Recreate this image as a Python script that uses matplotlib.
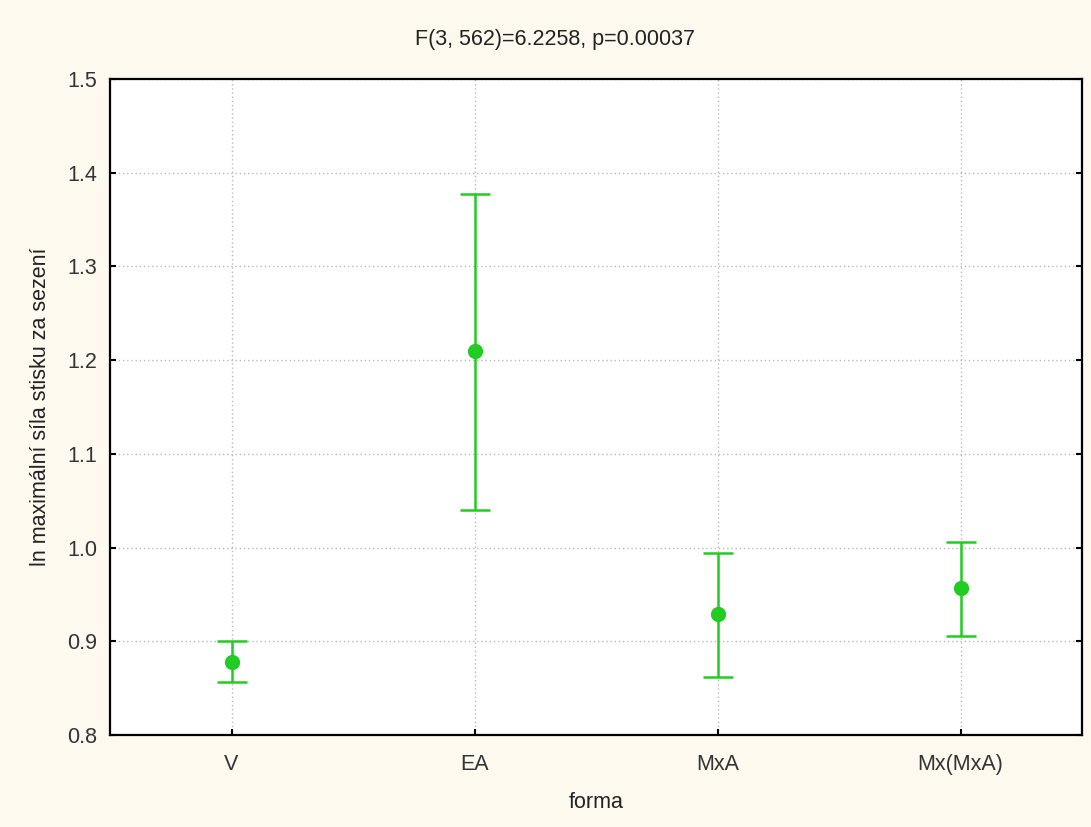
import numpy as np
import matplotlib.pyplot as plt

# data
groups = ['V', 'EA', 'MxA', 'Mx(MxA)']
means = [0.878, 1.210, 0.929, 0.957]
upper = [0.900, 1.377, 0.994, 1.006]
lower = [0.857, 1.040, 0.862, 0.906]
yticks = [0.8, 0.9, 1.0, 1.1, 1.2, 1.3, 1.4, 1.5]

plt.rcParams['font.family'] = ['Liberation Sans', 'DejaVu Sans']

fig = plt.figure(figsize=(10.91, 8.27), dpi=100, facecolor='#fdf9ee')
ax = fig.add_axes([110/1091, 1-735/827, (1082-110)/1091, (735-79)/827])
ax.set_facecolor('white')

x = np.arange(len(groups))
m = np.array(means)
err = [m - np.array(lower), np.array(upper) - m]
green = '#22cc22'
ax.errorbar(x, m, yerr=err, fmt='o', color=green, ecolor=green,
            elinewidth=1.8, capsize=10.5, capthick=1.8, markersize=10, zorder=3)

ax.set_xlim(-0.5, len(groups)-0.5)
ax.set_ylim(0.8, 1.5)
ax.set_xticks(x)
ax.set_xticklabels(groups)
ax.set_yticks(yticks)
ax.set_yticklabels(['%.1f' % v for v in yticks])
ax.grid(True, linestyle=(0, (1, 2)), color='#b8b8b8', linewidth=1)
ax.tick_params(direction='in', length=4, width=1.5, labelsize=15.5, colors='black',
               right=True, pad=9)
ax.tick_params(axis='x', pad=14)
ax.tick_params(axis='both', labelcolor='#333333')
for s in ax.spines.values():
    s.set_linewidth(1.6)
    s.set_color('black')

ax.set_ylabel('ln maximální síla stisku za sezení', fontsize=15.5, labelpad=12,
              color='#222222')
ax.set_xlabel('forma', fontsize=15.5, labelpad=12, color='#222222')
fig.text(555/1091, 1-40/827, 'F(3, 562)=6.2258, p=0.00037', fontsize=15.5,
         ha='center', va='center', color='#222222')

plt.savefig('out.png', dpi=100, facecolor=fig.get_facecolor())
